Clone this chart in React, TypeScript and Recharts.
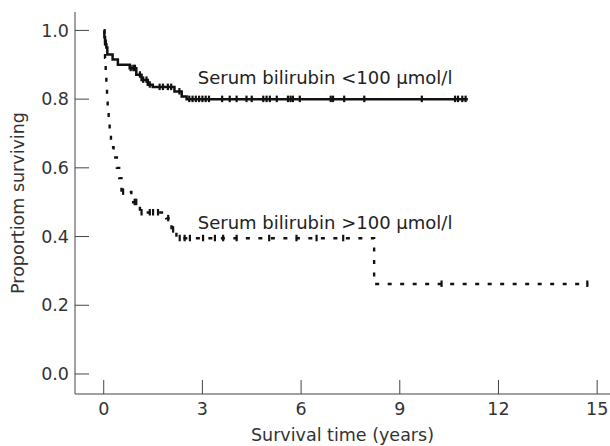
import {
  ComposedChart,
  Line,
  Scatter,
  XAxis,
  YAxis,
  ReferenceDot,
} from "recharts";

// Kaplan-Meier steps, serum bilirubin < 100 umol/l
const lowT = [0, 0.02, 0.04, 0.06, 0.08, 0.11, 0.27, 0.43, 0.79, 0.99, 1.15, 1.34, 1.49, 2.15, 2.37, 2.52, 11.07];
const lowS = [1.0, 0.98, 0.97, 0.96, 0.95, 0.93, 0.915, 0.9, 0.89, 0.871, 0.856, 0.842, 0.835, 0.822, 0.808, 0.8, 0.8];
const lowCensor = [
  0.82, 0.9, 0.95, 1.1, 1.2, 1.3, 1.4, 1.7, 1.8, 1.95, 2.05, 2.3, 2.6, 2.7, 2.8, 2.9, 3.0,
  3.1, 3.2, 3.6, 3.83, 4.04, 4.34, 4.5, 4.85, 4.95, 5.05, 5.26, 5.6, 5.68, 5.75, 5.96,
  6.9, 6.97, 7.31, 7.92, 9.67, 10.68, 10.77, 10.9, 11.0,
];

// serum bilirubin > 100 umol/l
const highT = [0, 0.02, 0.04, 0.06, 0.08, 0.1, 0.12, 0.15, 0.18, 0.22, 0.3, 0.4, 0.47, 0.54, 0.84, 1.1, 1.9, 2.06, 2.21, 8.22, 14.73];
const highS = [1.0, 0.97, 0.92, 0.88, 0.84, 0.8, 0.77, 0.73, 0.7, 0.66, 0.63, 0.6, 0.57, 0.53, 0.5, 0.47, 0.453, 0.42, 0.395, 0.262, 0.262];
const highCensor = [
  0.59, 0.94, 0.99, 1.15, 1.4, 1.5, 1.65, 1.96, 2.11, 2.31, 2.46, 2.62, 3.02, 3.38, 3.63,
  4.04, 5.03, 5.86, 6.47, 7.28, 10.27, 14.7,
];

const xTicks = [0, 3, 6, 9, 12, 15];
const yTicks = [0, 0.2, 0.4, 0.6, 0.8, 1.0];

const FONT = "'DejaVu Sans', 'Open Sans', sans-serif";
const FS = 17.5;

function levelAt(ts: number[], ss: number[], t: number) {
  let s = ss[0];
  for (let i = 0; i < ts.length; i++) if (ts[i] <= t) s = ss[i];
  return s;
}

const lowData = lowT.map((t, i) => ({ t, s: lowS[i] }));
const highData = highT.map((t, i) => ({ t, s: highS[i] }));
const lowMarks = lowCensor.map((t) => ({ t, s: levelAt(lowT, lowS, t) }));
const highMarks = highCensor.map((t) => ({ t, s: levelAt(highT, highS, t) }));

function CensorTick(props: any) {
  const { cx, cy } = props;
  return <line x1={cx} x2={cx} y1={cy - 3.5} y2={cy + 3} stroke="#111" strokeWidth={2.2} />;
}

function YTitle(props: any) {
  const vb = props.viewBox;
  const x = vb.x + 24;
  const y = vb.y + vb.height / 2;
  return (
    <text x={x} y={y} transform={`rotate(-90 ${x} ${y})`} textAnchor="middle" fill="#333" fontSize={FS} fontFamily={FONT}>
      Proportiom surviving
    </text>
  );
}

function SeriesLabel(text: string) {
  return (props: any) => {
    const vb = props.viewBox;
    return (
      <text x={vb.x} y={vb.y + 6.5} fill="#222" fontSize={18} fontFamily={FONT}>
        {text}
      </text>
    );
  };
}

export default function App() {
  return (
    <div style={{ position: "absolute", left: 0, top: 0, background: "#fff" }}>
      <ComposedChart width={610} height={446} margin={{ top: 12, right: 0, left: 0, bottom: 0 }} style={{ fontFamily: FONT }}>
        <XAxis
          dataKey="t"
          type="number"
          domain={[-0.873, 15.39]}
          ticks={xTicks}
          interval={0}
          allowDataOverflow
          height={52}
          tickSize={-14}
          tickMargin={23}
          stroke="#444"
          tick={{ fill: "#333", fontSize: FS }}
          label={{ value: "Survival time (years)", position: "insideBottom", offset: 5, fill: "#333", fontSize: FS }}
        />
        <YAxis
          type="number"
          domain={[-0.0583, 1.0536]}
          ticks={yTicks}
          interval={0}
          allowDataOverflow
          width={75}
          tickSize={-14}
          tickMargin={20}
          stroke="#444"
          tickFormatter={(v: number) => v.toFixed(1)}
          tick={{ fill: "#333", fontSize: FS }}
          label={{ content: YTitle }}
        />
        <Line data={lowData} dataKey="s" type="stepAfter" stroke="#111" strokeWidth={2.5} dot={false} isAnimationActive={false} />
        <Line data={highData} dataKey="s" type="stepAfter" stroke="#111" strokeWidth={2.4} strokeDasharray="4 8.5" dot={false} isAnimationActive={false} />
        <Scatter data={lowMarks} dataKey="s" shape={CensorTick} isAnimationActive={false} />
        <Scatter data={highMarks} dataKey="s" shape={CensorTick} isAnimationActive={false} />
        <ReferenceDot x={2.86} y={0.862} r={0} fill="none" stroke="none" label={{ content: SeriesLabel("Serum bilirubin <100 μmol/l") }} />
        <ReferenceDot x={2.86} y={0.441} r={0} fill="none" stroke="none" label={{ content: SeriesLabel("Serum bilirubin >100 μmol/l") }} />
      </ComposedChart>
    </div>
  );
}
